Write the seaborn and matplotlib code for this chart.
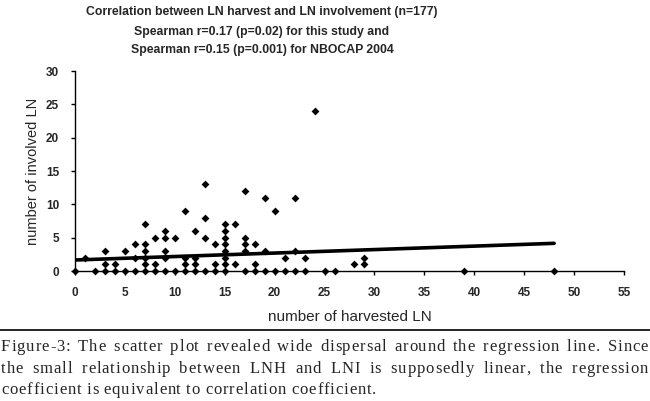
import matplotlib
matplotlib.use("Agg")
import matplotlib.pyplot as plt
import seaborn as sns
import pandas as pd
from matplotlib.lines import Line2D

# number of harvested LN / number of involved LN
harvested = [0, 1, 2, 3, 3, 3, 4, 4, 5, 5, 6, 6, 6,
             7, 7, 7, 7, 7, 7, 8, 8, 8, 9, 9, 9, 9, 9, 10, 10,
             11, 11, 11, 11, 12, 12, 12, 12, 13, 13, 13, 13, 14, 14, 14,
             15, 15, 15, 15, 15, 15, 15, 15, 16, 16,
             17, 17, 17, 17, 17, 18, 18, 18, 19, 19, 19, 20, 20,
             21, 21, 22, 22, 22, 23, 23, 24, 25, 26, 28, 29, 29, 39, 48]
involved = [0, 2, 0, 3, 1, 0, 1, 0, 3, 0, 4, 2, 0,
            7, 4, 3, 2, 1, 0, 5, 1, 0, 6, 5, 3, 2, 0, 5, 0,
            9, 2, 1, 0, 6, 2, 1, 0, 13, 8, 5, 0, 4, 1, 0,
            7, 6, 5, 4, 3, 2, 1, 0, 7, 1,
            12, 5, 4, 3, 0, 4, 1, 0, 11, 3, 0, 9, 0,
            2, 0, 11, 3, 0, 2, 0, 24, 0, 0, 1, 2, 1, 0, 0]

# regression line end points
reg_x = [0, 48]
reg_y = [1.65, 4.15]

title_lines = ["Correlation between LN harvest and LN involvement (n=177)",
               "Spearman r=0.17 (p=0.02) for this study and",
               "Spearman r=0.15 (p=0.001) for NBOCAP 2004"]
caption_lines = ["Figure-3: The scatter plot revealed wide dispersal around the regression line. Since",
                 "the small relationship between LNH and LNI is supposedly linear, the regression",
                 "coefficient is equivalent to correlation coefficient."]

df = pd.DataFrame({"harvested": harvested, "involved": involved})
line_df = pd.DataFrame({"x": reg_x, "y": reg_y})

sns.set_style("white")
plt.rcParams["font.family"] = ["Liberation Sans", "DejaVu Sans"]

W, H = 650, 401
fig = plt.figure(figsize=(W / 100, H / 100), dpi=100)
ax = fig.add_axes([75 / W, 1 - 271 / H, 549 / W, 200 / H])

sns.lineplot(data=line_df, x="x", y="y", color="black", linewidth=2.6, ax=ax)
sns.scatterplot(data=df, x="harvested", y="involved", marker="D", s=16,
                color="black", edgecolor="black", linewidth=0, ax=ax, clip_on=False, zorder=5)

ax.set_xlim(0, 55)
ax.set_ylim(0, 30)
ax.set_xticks(range(0, 56, 5))
ax.set_yticks(range(0, 31, 5))
for s in ["top", "right"]:
    ax.spines[s].set_visible(False)
for s in ["left", "bottom"]:
    ax.spines[s].set_color("black")
    ax.spines[s].set_linewidth(1.0)
ax.tick_params(axis="both", direction="out", length=3, width=1, color="black",
               labelsize=8.5, pad=8.5, bottom=True, left=True)
for lab in ax.get_xticklabels() + ax.get_yticklabels():
    lab.set_fontweight("bold")

ax.set_xlabel("number of harvested LN", fontsize=11)
ax.set_ylabel("number of involved LN", fontsize=10.5)
ax.xaxis.set_label_coords(0.5, -(310 - 271) / 200)
ax.yaxis.set_label_coords(-(75 - 40) / 549, 0.5)

for i, line in enumerate(title_lines):
    fig.text(262 / W, 1 - (12.5 + 19 * i) / H, line, ha="center", va="center",
             fontsize=8.8, fontweight="bold")

fig.add_artist(Line2D([0, 1], [1 - 330 / H, 1 - 330 / H], color="black", linewidth=1.2))

serif = ["Liberation Serif", "DejaVu Serif"]
track = 0.9  # extra spacing between letters, px


def caption_line(line, y_px, x0, x1=None):
    # letters placed one by one so the caption can be letter spaced and justified
    r = fig.canvas.get_renderer()
    words = []
    for w in line.split():
        chars = [fig.text(0, 1 - y_px / H, c, ha="left", va="baseline",
                          fontsize=12, family=serif) for c in w]
        cw = [t.get_window_extent(r).width for t in chars]
        words.append((chars, cw))
    wlen = [sum(cw) + track * (len(cw) - 1) for _, cw in words]
    if x1 is not None:
        gap = (x1 - x0 - sum(wlen)) / (len(words) - 1)
    else:
        gap = 3.3 + 2 * track
    x = x0
    for (chars, cw), wl in zip(words, wlen):
        cx = x
        for t, w in zip(chars, cw):
            t.set_x(cx / W)
            cx += w + track
        x += wl + gap


fig.canvas.draw()
caption_line(caption_lines[0], 351, 1, 648)
caption_line(caption_lines[1], 373, 1, 648)
caption_line(caption_lines[2], 394, 1)

fig.savefig("out.png", dpi=100)
